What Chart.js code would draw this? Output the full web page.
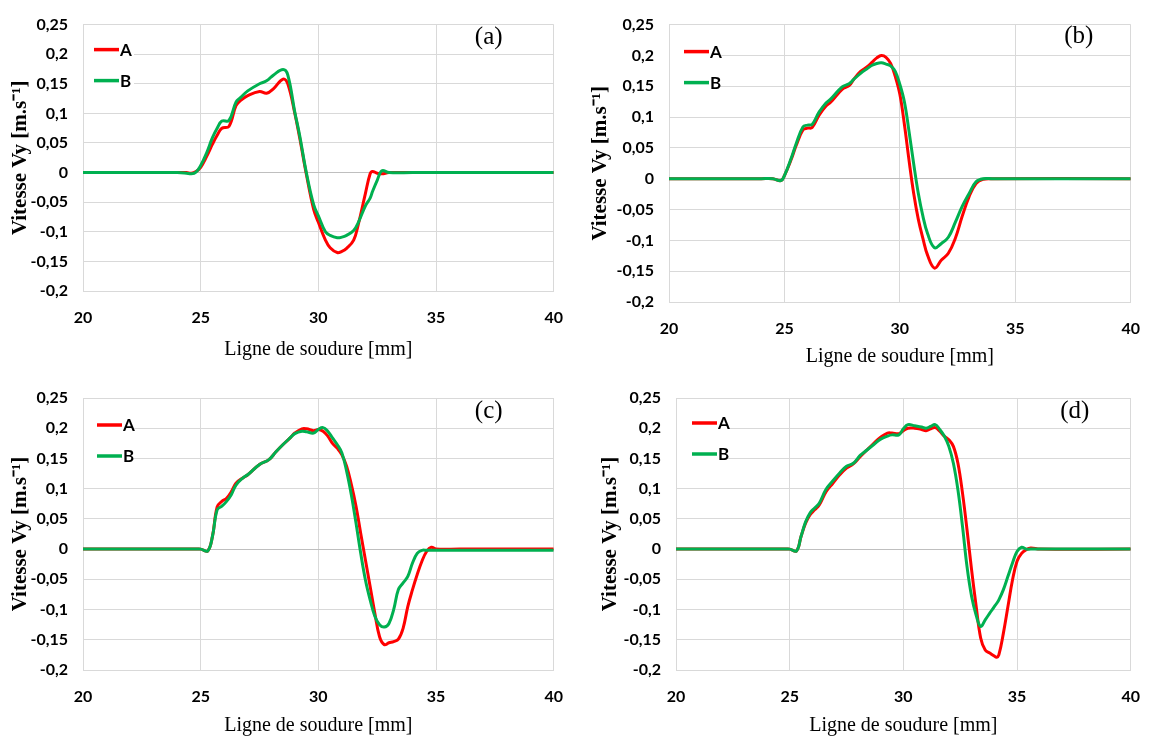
<!DOCTYPE html>
<html>
<head>
<meta charset="UTF-8" />
<script src="https://cdn.jsdelivr.net/npm/chart.js@4"></script>
<style>
  body, html {
    margin: 0;
    padding: 0;
    background: #ffffff;
  }
  #wrap {
    position: relative;
    width: 1157px;
    height: 744px;
  }
  canvas {
    position: absolute;
  }
</style>
</head>
<body>
<div id="wrap">
  <canvas id="chartA" width="580" height="372" style="left:0px;top:0px"></canvas>
  <canvas id="chartB" width="577" height="372" style="left:580px;top:0px"></canvas>
  <canvas id="chartC" width="580" height="372" style="left:0px;top:372px"></canvas>
  <canvas id="chartD" width="577" height="372" style="left:580px;top:372px"></canvas>
</div>
<script>
// ---- data ----
const seriesNames = ['A', 'B'];
const panelLetters = ['(a)', '(b)', '(c)', '(d)'];
const xTicks = [20, 25, 30, 35, 40];
const xTickLabels = ['20', '25', '30', '35', '40'];
const yTicks = [-0.2, -0.15, -0.1, -0.05, 0, 0.05, 0.1, 0.15, 0.2, 0.25];
const yTickLabels = ['-0,2', '-0,15', '-0,1', '-0,05', '0', '0,05', '0,1', '0,15', '0,2', '0,25'];

// panel (a)
const aX = [20, 24, 24.4, 24.6, 24.8, 25, 25.25, 25.5, 25.7, 25.9, 26.2, 26.5, 26.7, 27, 27.5, 27.8, 28.1, 28.5, 28.7, 29, 29.2, 29.5, 29.8, 30, 30.3, 30.5, 30.8, 31, 31.2, 31.5, 31.7, 32, 32.2, 32.3, 32.5, 32.7, 33, 34, 40];
const aA = [0, 0, 0, -0.001, 0.002, 0.009, 0.027, 0.048, 0.063, 0.075, 0.078, 0.113, 0.122, 0.13, 0.137, 0.134, 0.142, 0.158, 0.15, 0.1, 0.06, -0.005, -0.062, -0.084, -0.114, -0.127, -0.135, -0.133, -0.128, -0.114, -0.087, -0.035, -0.002, 0.002, -0.001, -0.002, 0, 0, 0];
const aB = [0, 0, -0.001, -0.002, 0.001, 0.012, 0.033, 0.059, 0.075, 0.087, 0.088, 0.119, 0.127, 0.138, 0.15, 0.155, 0.165, 0.174, 0.165, 0.102, 0.064, -0.002, -0.054, -0.073, -0.1, -0.106, -0.11, -0.109, -0.106, -0.098, -0.084, -0.056, -0.043, -0.032, -0.013, 0.003, 0, 0, 0];

// panel (b)
const bX = [20, 24, 24.5, 24.85, 25, 25.3, 25.5, 25.8, 26, 26.2, 26.5, 26.8, 27, 27.5, 27.8, 28, 28.3, 28.6, 28.8, 29, 29.2, 29.4, 29.6, 29.8, 30, 30.2, 30.4, 30.6, 30.8, 31, 31.2, 31.5, 31.8, 32.1, 32.4, 32.7, 33, 33.3, 33.6, 34, 40];
const bA = [0, 0, 0, -0.003, 0.005, 0.032, 0.053, 0.079, 0.082, 0.083, 0.103, 0.118, 0.124, 0.145, 0.151, 0.161, 0.174, 0.182, 0.189, 0.196, 0.2, 0.197, 0.187, 0.166, 0.137, 0.087, 0.029, -0.024, -0.066, -0.097, -0.124, -0.145, -0.132, -0.121, -0.097, -0.061, -0.029, -0.008, -0.001, 0, 0];
const bB = [0, 0, 0, -0.003, 0.005, 0.034, 0.056, 0.084, 0.087, 0.088, 0.108, 0.123, 0.129, 0.149, 0.154, 0.161, 0.171, 0.179, 0.184, 0.187, 0.188, 0.186, 0.183, 0.174, 0.153, 0.124, 0.076, 0.024, -0.024, -0.061, -0.089, -0.112, -0.105, -0.095, -0.071, -0.045, -0.024, -0.005, 0, 0, 0];

// panel (c)
const cX = [20, 24, 24.8, 25, 25.3, 25.5, 25.7, 25.9, 26.1, 26.3, 26.5, 26.8, 27, 27.5, 27.9, 28.2, 28.5, 28.8, 29, 29.3, 29.5, 29.8, 30, 30.2, 30.4, 30.6, 30.8, 31, 31.2, 31.4, 31.6, 31.8, 32, 32.2, 32.4, 32.6, 32.8, 33, 33.2, 33.4, 33.6, 33.8, 34, 34.2, 34.4, 34.6, 34.8, 35, 36, 40];
const cA = [0, 0, 0, 0, -0.003, 0.021, 0.07, 0.079, 0.084, 0.095, 0.109, 0.118, 0.123, 0.14, 0.148, 0.161, 0.173, 0.184, 0.192, 0.199, 0.199, 0.196, 0.198, 0.195, 0.187, 0.175, 0.167, 0.156, 0.137, 0.107, 0.071, 0.026, -0.018, -0.062, -0.106, -0.145, -0.158, -0.155, -0.153, -0.149, -0.131, -0.095, -0.067, -0.042, -0.02, -0.004, 0.003, 0, 0, 0];
const cB = [0, 0, 0, 0, -0.003, 0.021, 0.065, 0.071, 0.079, 0.09, 0.106, 0.118, 0.123, 0.14, 0.148, 0.161, 0.173, 0.184, 0.191, 0.195, 0.194, 0.192, 0.198, 0.201, 0.195, 0.184, 0.173, 0.159, 0.129, 0.09, 0.043, -0.007, -0.051, -0.084, -0.111, -0.125, -0.129, -0.123, -0.1, -0.067, -0.056, -0.045, -0.023, -0.007, -0.002, -0.002, -0.002, -0.002, -0.002, -0.002];

// panel (d)
const dX = [20, 24, 24.8, 25, 25.3, 25.5, 25.7, 25.9, 26.1, 26.3, 26.6, 26.9, 27.2, 27.5, 27.8, 28.1, 28.4, 28.7, 29, 29.3, 29.5, 29.8, 30, 30.2, 30.5, 30.8, 31, 31.2, 31.4, 31.6, 31.8, 32, 32.2, 32.4, 32.6, 32.8, 33, 33.2, 33.4, 33.6, 33.8, 34, 34.1, 34.2, 34.4, 34.6, 34.8, 35, 35.2, 35.4, 35.6, 36, 40];
const dA = [0, 0, 0, 0, -0.003, 0.021, 0.043, 0.057, 0.065, 0.073, 0.095, 0.109, 0.123, 0.134, 0.141, 0.153, 0.164, 0.175, 0.185, 0.192, 0.192, 0.191, 0.196, 0.2, 0.2, 0.198, 0.196, 0.199, 0.201, 0.195, 0.187, 0.181, 0.17, 0.142, 0.093, 0.032, -0.034, -0.094, -0.147, -0.167, -0.172, -0.177, -0.179, -0.175, -0.139, -0.095, -0.051, -0.02, -0.007, -0.001, 0.002, 0, 0];
const dB = [0, 0, 0, 0, -0.003, 0.021, 0.045, 0.06, 0.068, 0.076, 0.099, 0.113, 0.126, 0.137, 0.142, 0.155, 0.164, 0.173, 0.182, 0.187, 0.189, 0.189, 0.199, 0.206, 0.204, 0.202, 0.2, 0.203, 0.206, 0.198, 0.187, 0.17, 0.142, 0.098, 0.038, -0.029, -0.078, -0.109, -0.128, -0.117, -0.106, -0.095, -0.09, -0.084, -0.067, -0.045, -0.023, -0.004, 0.003, 0, 0, 0, 0];

// ---- styling ----
const RED = '#ff0000';
const GREEN = '#00b050';
const GRID = '#d9d9d9';
Chart.defaults.font.family = 'Lato';
Chart.defaults.color = '#000';

// legend box + panel letter drawn inside the plot area
const panelDecor = {
  id: 'panelDecor',
  afterDatasetsDraw(chart, args, opts) {
    const { ctx, chartArea } = chart;
    const lx = chartArea.left + opts.legendX;
    const ly = chartArea.top + opts.legendY;
    ctx.save();
    ctx.fillStyle = '#ffffff';
    ctx.fillRect(chartArea.left + 1, ly - 14, 50, opts.legendGap + 28);
    chart.data.datasets.forEach((ds, k) => {
      const y = ly + k * opts.legendGap;
      ctx.strokeStyle = ds.borderColor;
      ctx.lineWidth = 3.5;
      ctx.beginPath();
      ctx.moveTo(lx, y);
      ctx.lineTo(lx + 25, y);
      ctx.stroke();
      ctx.fillStyle = '#000';
      ctx.font = 'bold 17px Lato';
      ctx.textAlign = 'left';
      ctx.textBaseline = 'middle';
      ctx.fillText(ds.label, lx + 26, y + 1);
    });
    ctx.font = '25px "Liberation Serif"';
    ctx.textAlign = 'center';
    ctx.textBaseline = 'middle';
    ctx.fillText(opts.letter, chartArea.right - opts.letterDX, chartArea.top + opts.letterDY);
    ctx.restore();
  }
};

function makeChart(p) {
  const line = (label, ys, color, order) => ({
    label: label,
    data: p.x.map((x, i) => ({ x: x, y: ys[i] })),
    borderColor: color,
    backgroundColor: color,
    borderWidth: 3,
    pointRadius: 0,
    tension: 0.4,
    fill: false,
    order: order
  });
  return new Chart(document.getElementById(p.id), {
    type: 'line',
    data: {
      datasets: [line(seriesNames[0], p.a, RED, 2), line(seriesNames[1], p.b, GREEN, 1)]
    },
    options: {
      responsive: false,
      animation: false,
      devicePixelRatio: 1,
      layout: { padding: { left: 0, top: p.area.top, right: p.w - p.area.right, bottom: 0 } },
      plugins: {
        legend: { display: false },
        tooltip: { enabled: false },
        panelDecor: {
          letter: p.letter, letterDX: p.letterDX, letterDY: p.letterDY,
          legendX: p.legendX, legendY: p.legendY, legendGap: 31
        }
      },
      scales: {
        x: {
          type: 'linear',
          min: 20,
          max: 40,
          afterBuildTicks: s => { s.ticks = xTicks.map(v => ({ value: v })); },
          afterFit: s => { s.height = p.h - p.area.bottom; },
          ticks: {
            callback: (v, i) => xTickLabels[i],
            font: { size: 16, weight: 'bold' },
            padding: 17,
            maxRotation: 0,
            autoSkip: false
          },
          grid: { color: GRID, drawTicks: false },
          border: { color: GRID },
          title: {
            display: true,
            text: 'Ligne de soudure [mm]',
            font: { family: 'Liberation Serif', size: 20 },
            padding: { top: 0, bottom: p.xTitlePad }
          }
        },
        y: {
          min: -0.2,
          max: 0.25,
          afterBuildTicks: s => { s.ticks = yTicks.map(v => ({ value: v })); },
          afterFit: s => { s.width = p.area.left; },
          ticks: {
            callback: (v, i) => yTickLabels[i],
            font: { size: 16, weight: 'bold' },
            padding: 15
          },
          grid: {
            color: c => (c.tick && c.tick.value === 0 ? '#bfbfbf' : GRID),
            drawTicks: false
          },
          border: { color: GRID },
          title: {
            display: true,
            text: 'Vitesse Vy [m.s⁻¹]',
            font: { family: 'Liberation Serif', size: 21, weight: 'bold' },
            padding: { top: p.yTitlePad, bottom: 0 }
          }
        }
      }
    },
    plugins: [panelDecor]
  });
}

makeChart({ id: 'chartA', w: 580, h: 372, area: { left: 83, top: 17, right: 555, bottom: 291 },
  x: aX, a: aA, b: aB, letter: panelLetters[0], letterDX: 65, letterDY: 13,
  legendX: 11, legendY: 25, xTitlePad: 10, yTitlePad: 8 });
makeChart({ id: 'chartB', w: 577, h: 372, area: { left: 89, top: 18, right: 560, bottom: 302 },
  x: bX, a: bA, b: bB, letter: panelLetters[1], letterDX: 52, letterDY: 12,
  legendX: 15, legendY: 27, xTitlePad: 3, yTitlePad: 8 });
makeChart({ id: 'chartC', w: 580, h: 372, area: { left: 83, top: 26, right: 555, bottom: 298 },
  x: cX, a: cA, b: cB, letter: panelLetters[2], letterDX: 65, letterDY: 13,
  legendX: 14, legendY: 27, xTitlePad: 6, yTitlePad: 8 });
makeChart({ id: 'chartD', w: 577, h: 372, area: { left: 96, top: 26, right: 563, bottom: 298 },
  x: dX, a: dA, b: dB, letter: panelLetters[3], letterDX: 56, letterDY: 13,
  legendX: 16, legendY: 25, xTitlePad: 6, yTitlePad: 18 });
</script>
</body>
</html>
